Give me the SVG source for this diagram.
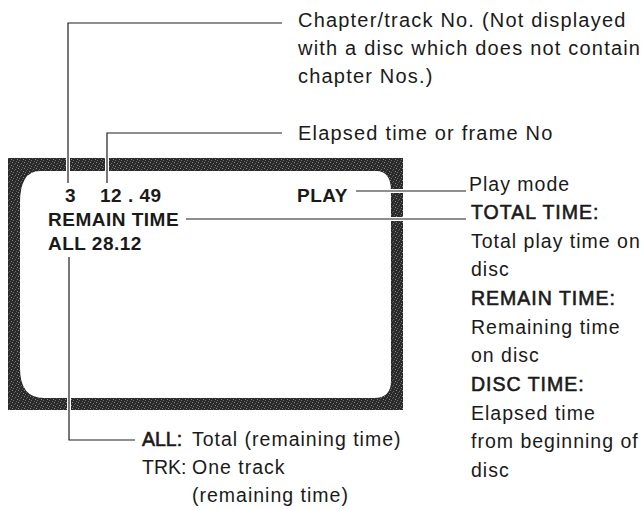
<svg xmlns="http://www.w3.org/2000/svg" width="641" height="510" viewBox="0 0 641 510">
<defs>
<pattern id="ht" width="6" height="6" patternUnits="userSpaceOnUse">
<rect width="6" height="6" fill="#2a2a2a"/>
<rect x="0" y="0" width="1" height="1" fill="#8a8a8a"/>
<rect x="3" y="1" width="1" height="1" fill="#6e6e6e"/>
<rect x="5" y="3" width="1" height="1" fill="#8a8a8a"/>
<rect x="1" y="4" width="1" height="1" fill="#707070"/>
<rect x="4" y="5" width="1" height="1" fill="#5e5e5e"/>
<rect x="2" y="2" width="1" height="1" fill="#555"/>
</pattern>
</defs>
<style>
.t{font-family:"Liberation Sans",Arial,sans-serif;font-size:19.5px;fill:#1a1a1a;letter-spacing:1px}
.top{font-size:20px;letter-spacing:1.2px}
.h{stroke:#1a1a1a;stroke-width:0.6px}
.k{letter-spacing:0px}
.s{font-family:"Liberation Sans",Arial,sans-serif;font-size:19px;font-weight:bold;fill:#1a1a1a;letter-spacing:0.5px}
.ln{fill:none;stroke:#1e1e1e;stroke-width:1.2}
.halo{fill:none;stroke:#fff;stroke-width:4}
</style>
<g id="screen">
<path fill="url(#ht)" fill-rule="evenodd" d="M8,158 H403 V410 H8 Z M40,171 L376,171 Q391,171 391,191 L391,381 Q391,398 374,398 L44,398 Q20,398 20,368 L20,203 Q20,171 40,171 Z"/>
<text class="s" x="65" y="202">3</text>
<text class="s" x="100" y="202">12 . 49</text>
<text class="s" x="297" y="202">PLAY</text>
<text class="s" x="48" y="226">REMAIN TIME</text>
<text class="s" x="48" y="250">ALL 28.12</text>
</g>
<g id="connectors">
<path class="halo" d="M68,155 V176 M107,155 V176 M69,394 V414 M381,191 H408 M381,219 H408"/>
<path class="ln" d="M282,23 H68 V183"/>
<path class="ln" d="M282,133 H107 V183"/>
<path class="ln" d="M356,191 H466"/>
<path class="ln" d="M186,219 H466"/>
<path class="ln" d="M69,257 V440 H135"/>
</g>
<g id="chapter-label">
<text class="t top" x="298" y="27">Chapter/track No. (Not displayed</text>
<text class="t top" x="298" y="55">with a disc which does not contain</text>
<text class="t top" x="298" y="83">chapter Nos.)</text>
</g>
<g id="elapsed-label">
<text class="t top" x="298" y="140">Elapsed time or frame No</text>
</g>
<g id="mode-label">
<text class="t" x="469" y="191">Play mode</text>
<text class="t h" x="471" y="219">TOTAL TIME:</text>
<text class="t" x="471" y="248">Total play time on</text>
<text class="t" x="471" y="276">disc</text>
<text class="t h" x="471" y="305">REMAIN TIME:</text>
<text class="t" x="471" y="334">Remaining time</text>
<text class="t" x="471" y="362">on disc</text>
<text class="t h" x="471" y="391">DISC TIME:</text>
<text class="t" x="471" y="420">Elapsed time</text>
<text class="t" x="471" y="448">from beginning of</text>
<text class="t" x="471" y="477">disc</text>
</g>
<g id="all-label">
<text class="t k h" x="142" y="446">ALL:</text>
<text class="t" x="192" y="446">Total (remaining time)</text>
<text class="t k" x="142" y="474">TRK:</text>
<text class="t" x="192" y="474">One track</text>
<text class="t" x="192" y="502">(remaining time)</text>
</g>
</svg>
